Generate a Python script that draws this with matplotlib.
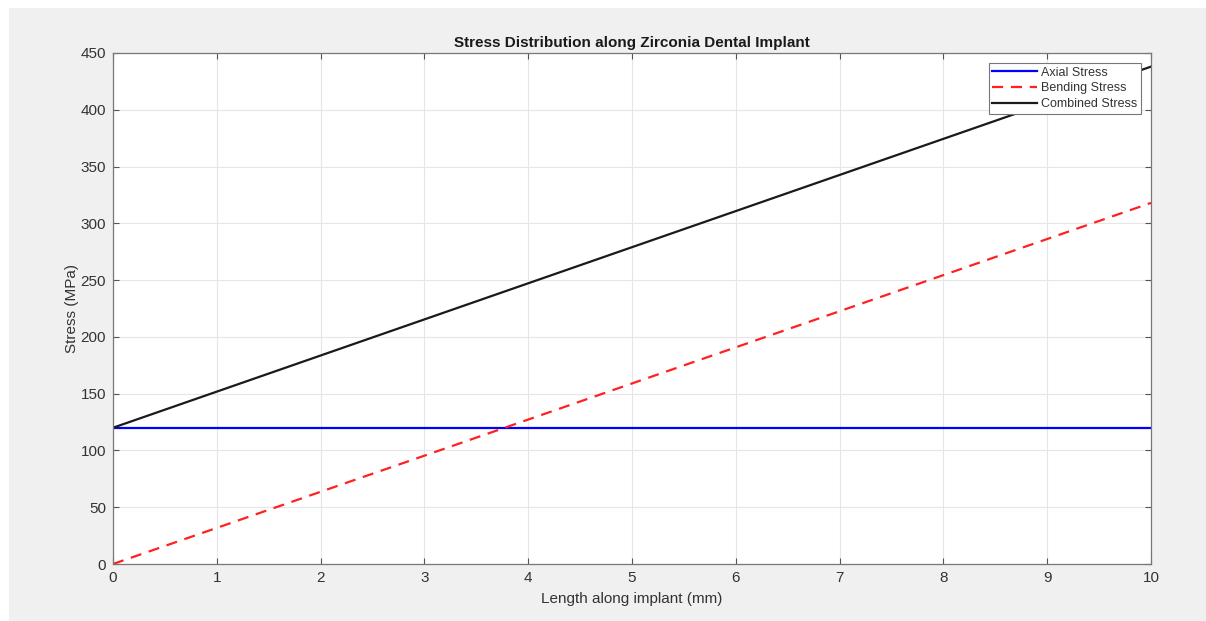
import numpy as np
import matplotlib.pyplot as plt
from matplotlib.patches import Rectangle

plt.rcParams['font.family'] = ['Liberation Sans', 'DejaVu Sans']

# data
length_mm = [0, 10]
axial_stress = [120, 120]
bending_stress = [0, 318]
combined_stress = [120, 438]

fig = plt.figure(figsize=(12.06, 6.21), dpi=100)
fig.patch.set_facecolor('white')
fig.patches.append(Rectangle((9 / 1206, 0), 1, (621 - 8) / 621, transform=fig.transFigure,
                             facecolor='#f0f0f0', edgecolor='none', zorder=-10))

ax = fig.add_axes([113 / 1206, 57 / 621, (1151 - 113) / 1206, (564 - 53) / 621])
ax.set_facecolor('white')

ax.plot(length_mm, axial_stress, color='#0000ff', lw=1.6, label='Axial Stress')
ax.plot(length_mm, bending_stress, color='#ff2020', lw=1.6, ls=(0, (5, 3.5)), label='Bending Stress')
ax.plot(length_mm, combined_stress, color='#1a1a1a', lw=1.6, label='Combined Stress')

ax.set_xlim(0, 10)
ax.set_ylim(0, 450)
ax.set_xticks(np.arange(0, 11, 1))
ax.set_yticks(np.arange(0, 451, 50))
ax.grid(True, color='#e6e6e6', lw=0.8)
ax.set_axisbelow(True)
ax.tick_params(direction='in', length=4, width=0.8, colors='#555555', labelcolor='#333333',
               labelsize=11, top=True, right=True, pad=5)
for s in ax.spines.values():
    s.set_color('#777777')
    s.set_linewidth(0.9)

ax.set_xlabel('Length along implant (mm)', fontsize=11, color='#333333', labelpad=5)
ax.set_ylabel('Stress (MPa)', fontsize=11, color='#333333', labelpad=1)
ax.set_title('Stress Distribution along Zirconia Dental Implant', fontsize=11, fontweight='bold',
             color='#1a1a1a', pad=4)

leg = ax.legend(loc='upper right', fontsize=9, fancybox=False, framealpha=1,
                edgecolor='#777777', handlelength=3.6, handletextpad=0.3,
                borderpad=0.3, labelspacing=0.3, borderaxespad=0.8)
leg.get_frame().set_linewidth(0.8)
for t in leg.get_texts():
    t.set_color('#333333')

fig.savefig('out.png', dpi=100, facecolor=fig.get_facecolor())
